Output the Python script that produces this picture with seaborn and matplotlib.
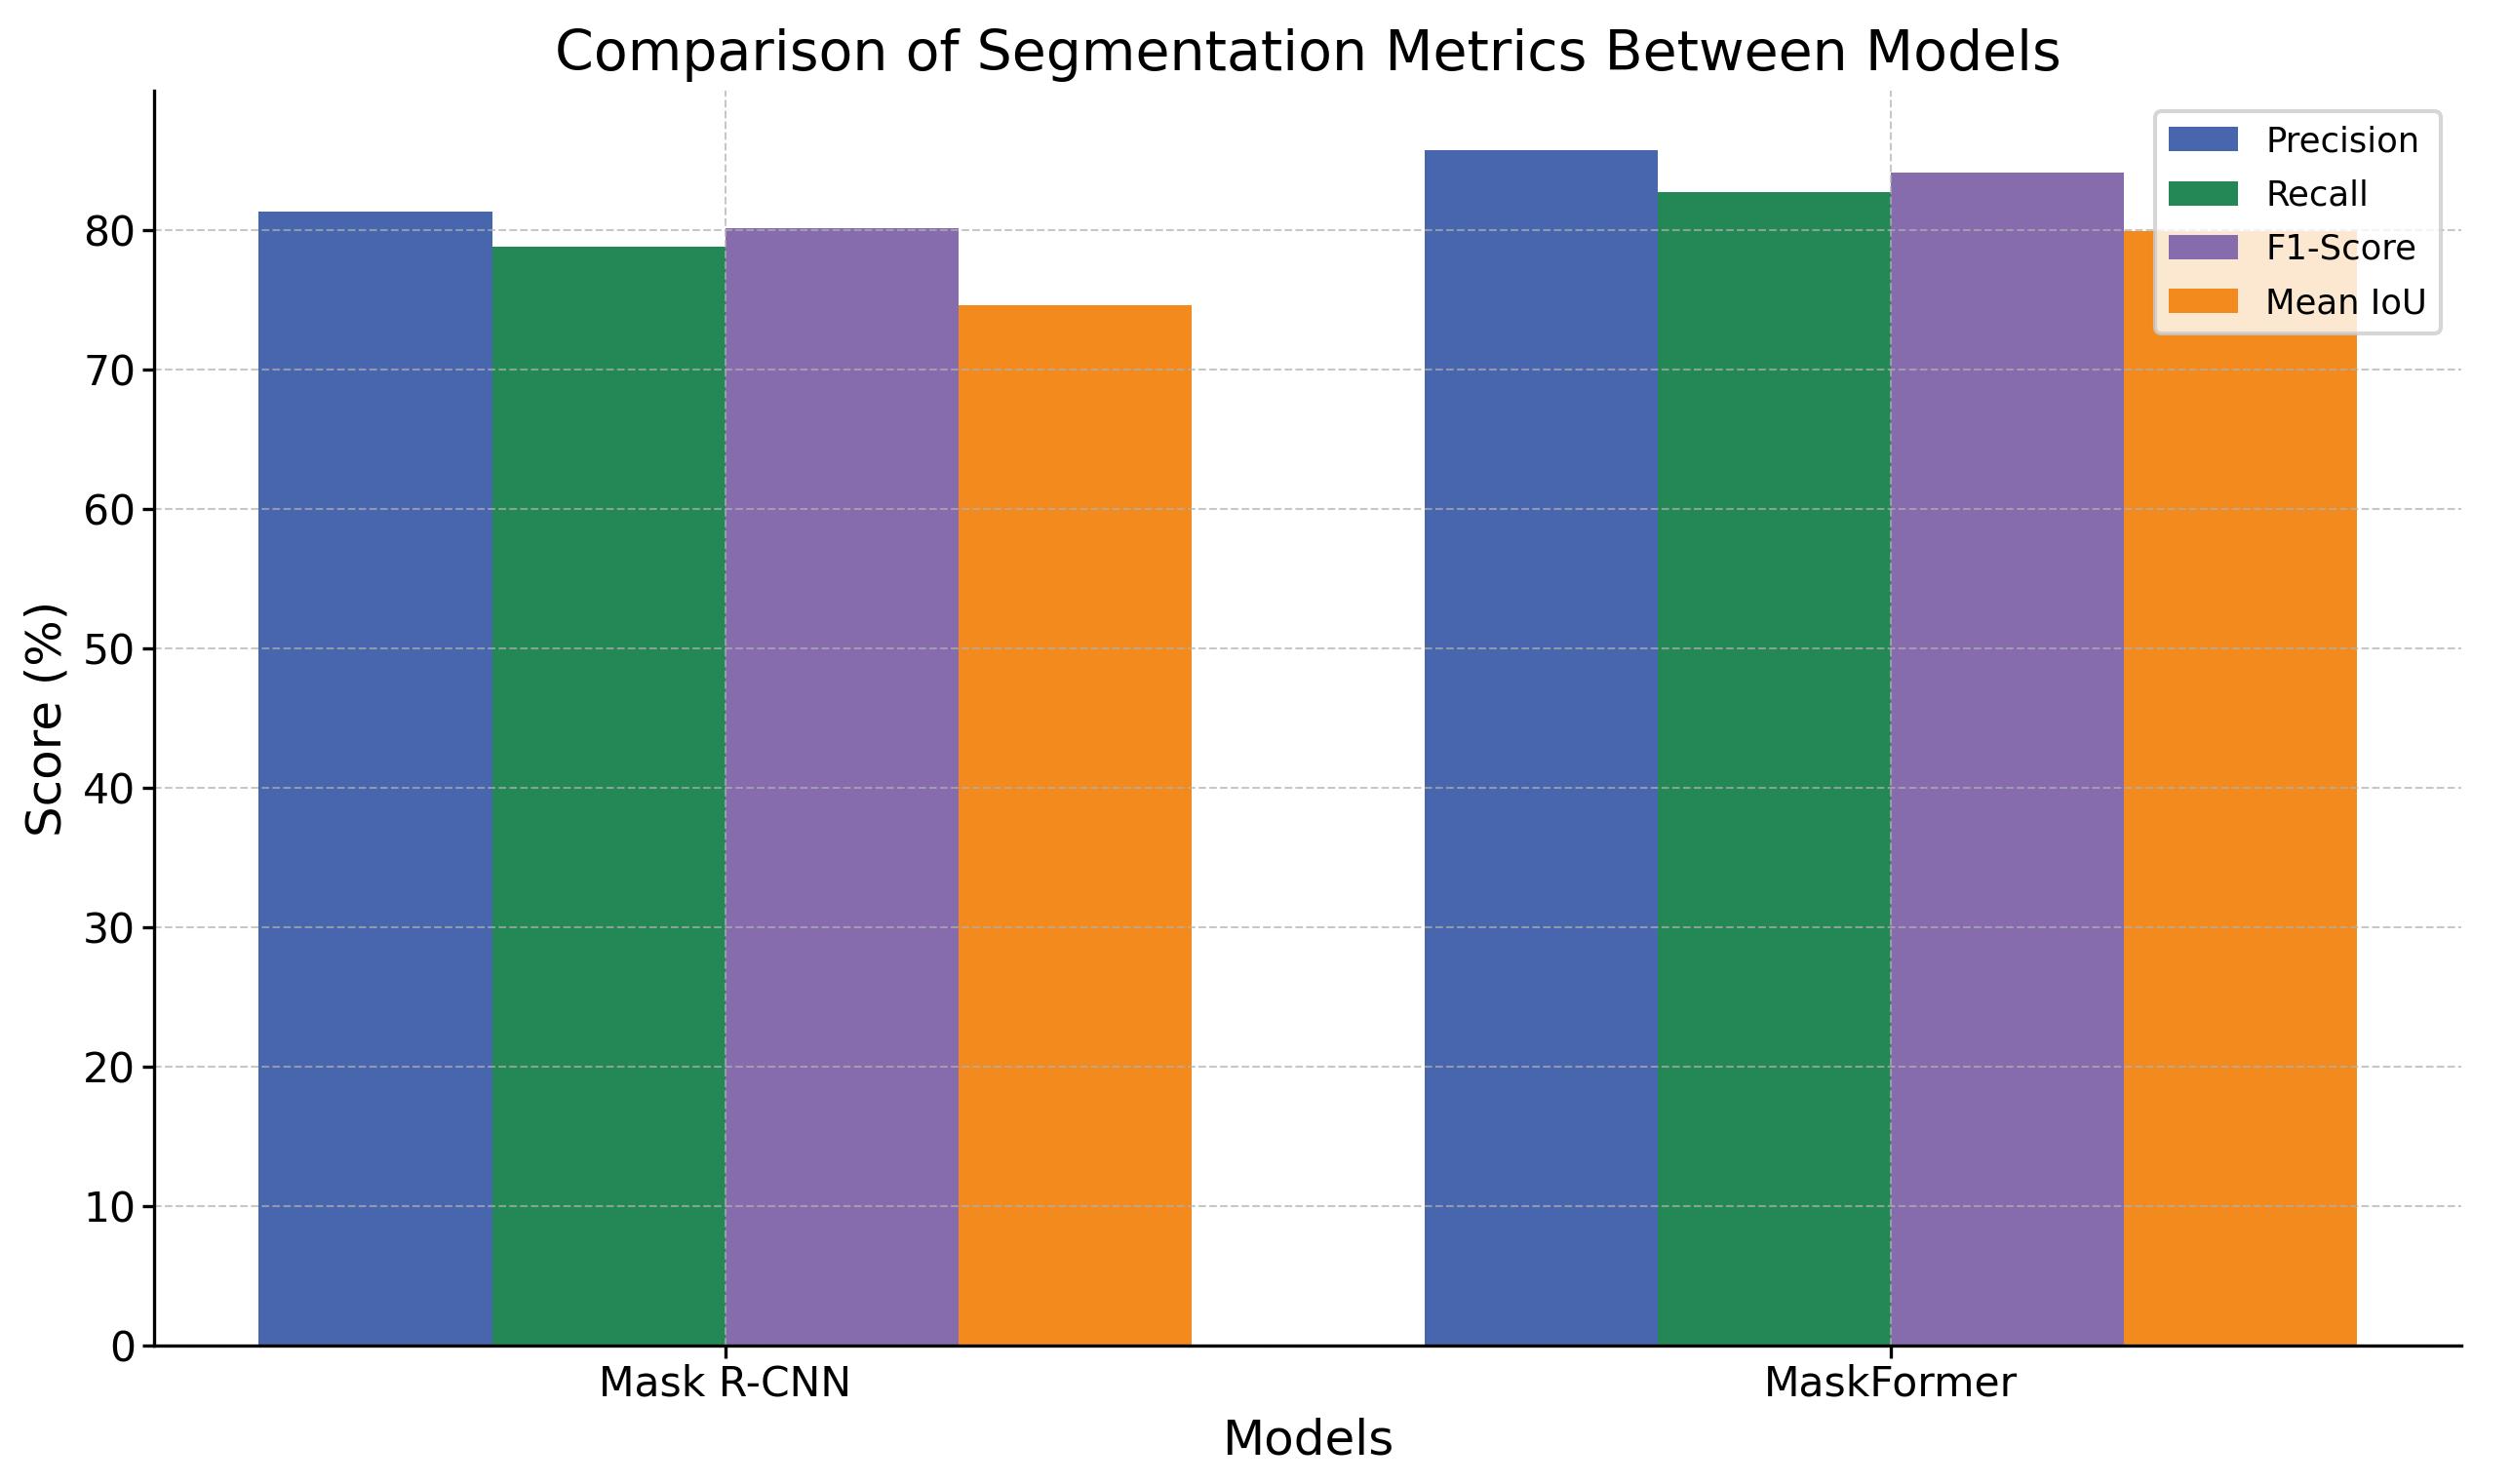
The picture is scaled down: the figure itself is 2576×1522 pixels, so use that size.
import matplotlib
matplotlib.use("Agg")
import matplotlib.pyplot as plt
import pandas as pd
import seaborn as sns

MODELS = ["Mask R-CNN", "MaskFormer"]
METRICS = ["Precision", "Recall", "F1-Score", "Mean IoU"]
PRECISION = [81.3, 85.7]
RECALL = [78.8, 82.7]
F1_SCORE = [80.1, 84.1]
MEAN_IOU = [74.6, 79.9]
COLORS = ["#4866AD", "#248856", "#866BAD", "#F28A1E"]


def build_frame() -> pd.DataFrame:
    rows = []
    for metric, values in zip(METRICS, [PRECISION, RECALL, F1_SCORE, MEAN_IOU]):
        for model, value in zip(MODELS, values):
            rows.append({"Model": model, "Metric": metric, "Score": value})
    return pd.DataFrame(rows)


def main() -> None:
    plt.rcParams["font.family"] = ["DejaVu Sans"]
    df = build_frame()

    fig, ax = plt.subplots(figsize=(2576 / 300, 1522 / 300), dpi=300)
    sns.barplot(
        data=df,
        x="Model",
        y="Score",
        hue="Metric",
        hue_order=METRICS,
        order=MODELS,
        palette=COLORS,
        saturation=1,
        width=0.8,
        gap=0,
        linewidth=0,
        errorbar=None,
        ax=ax,
    )

    # plain matplotlib margins rather than seaborn's categorical limits
    ax.set_xlim(-0.49, 1.49)
    ax.set_ylim(0, 90)
    ax.set_yticks(range(0, 81, 10))
    ax.grid(True, linestyle="--", linewidth=0.5, alpha=0.7)
    sns.despine(ax=ax)

    ax.set_title("Comparison of Segmentation Metrics Between Models", fontsize=13.7, pad=5)
    ax.set_xlabel("Models", fontsize=12, labelpad=3)
    ax.set_ylabel("Score (%)", fontsize=12, labelpad=3)
    ax.tick_params(labelsize=10.2, length=3, pad=1.5)
    sns.move_legend(ax, "upper right", title=None, fontsize=8.5,
                    labelspacing=0.6, borderaxespad=0.6)

    fig.subplots_adjust(left=0.0613, right=0.98, top=0.939, bottom=0.0933)
    fig.savefig("out.png", dpi=300)
    plt.close(fig)


if __name__ == "__main__":
    main()
